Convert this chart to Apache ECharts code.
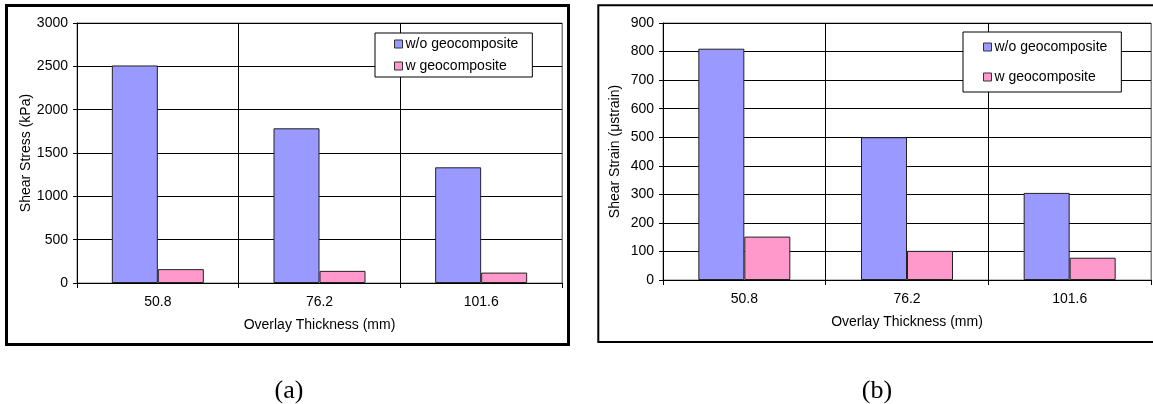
<!DOCTYPE html>
<html>
<head>
<meta charset="utf-8">
<script src="https://cdn.jsdelivr.net/npm/echarts@6/dist/echarts.min.js"></script>
<style>
  html, body { margin: 0; padding: 0; background: #fff; }
  #chart { width: 1153px; height: 404px; }
</style>
</head>
<body>
<div id="chart"></div>
<script>
// overlay thickness (mm)
const categories = ['50.8', '76.2', '101.6']
const seriesNames = ['w/o geocomposite', 'w geocomposite']

// (a) shear stress, kPa
const stressWithout = [2510, 1785, 1335]
const stressWith = [160, 140, 120]
const stressTicks = { min: 0, max: 3000, interval: 500 }

// (b) shear strain, microstrain
const strainWithout = [810, 500, 305]
const strainWith = [152, 102, 78]
const strainTicks = { min: 0, max: 900, interval: 100 }

const blue = '#9999ff'
const pink = '#ff99cc'
const font = 'Liberation Sans, Arial, sans-serif'

function xAxis(gridIndex) {
  return {
    type: 'category',
    gridIndex,
    data: categories,
    name: 'Overlay Thickness (mm)',
    nameLocation: 'middle',
    nameGap: 35,
    nameTextStyle: { fontFamily: font, fontSize: 14, color: '#000' },
    axisLine: { lineStyle: { color: '#000', width: 1 } },
    axisTick: { show: true, interval: 0, length: 5, lineStyle: { color: '#000' } },
    axisLabel: { fontFamily: font, fontSize: 14, color: '#000', margin: 12, interval: 0 },
    splitLine: {
      show: true,
      interval: 0,
      lineStyle: { color: ['#000', '#000', '#000', '#808080'], width: 1 },
    },
  }
}

function yAxis(gridIndex, ticks, name, gap) {
  return {
    type: 'value',
    gridIndex,
    min: ticks.min,
    max: ticks.max,
    interval: ticks.interval,
    name,
    nameLocation: 'middle',
    nameGap: gap,
    nameTextStyle: { fontFamily: font, fontSize: 14, color: '#000' },
    axisLine: { show: true, lineStyle: { color: '#000', width: 1 } },
    axisTick: { show: true, length: 4, lineStyle: { color: '#000' } },
    axisLabel: {
      fontFamily: font,
      fontSize: 14,
      color: '#000',
      margin: 9,
      formatter: v => String(v),
    },
    splitLine: { show: true, lineStyle: { color: '#000', width: 1 } },
  }
}

function bar(name, data, color, idx) {
  return {
    type: 'bar',
    name,
    data,
    xAxisIndex: idx,
    yAxisIndex: idx,
    barWidth: 46,
    barGap: '0%',
    itemStyle: { color, borderColor: '#222', borderWidth: 1 },
  }
}

function legend(left, top, itemGap, padding) {
  return {
    orient: 'vertical',
    left,
    top,
    data: seriesNames,
    icon: 'rect',
    itemWidth: 8,
    itemHeight: 8,
    itemGap,
    padding,
    backgroundColor: '#fff',
    borderColor: '#000',
    borderWidth: 1,
    borderRadius: 0,
    selectedMode: false,
    itemStyle: { borderColor: '#333', borderWidth: 1 },
    textStyle: { fontFamily: font, fontSize: 14, color: '#000', padding: [0, 0, 0, -2] },
  }
}

const chart = echarts.init(document.getElementById('chart'))
chart.setOption({
  animation: false,
  backgroundColor: '#fff',
  grid: [
    { left: 77, top: 23, right: 591, bottom: 121, show: true, borderColor: '#808080', borderWidth: 1 },
    { left: 663, top: 23, right: 2, bottom: 124, show: true, borderColor: '#808080', borderWidth: 1 },
  ],
  legend: [
    legend(375, 33, 8, [4, 14, 4, 19]),
    legend(963, 32, 16, [8, 14, 8, 20]),
  ],
  xAxis: [xAxis(0), xAxis(1)],
  yAxis: [
    yAxis(0, stressTicks, 'Shear Stress (kPa)', 44),
    yAxis(1, strainTicks, 'Shear Strain (μstrain)', 41),
  ],
  series: [
    bar(seriesNames[0], stressWithout, blue, 0),
    bar(seriesNames[1], stressWith, pink, 0),
    bar(seriesNames[0], strainWithout, blue, 1),
    bar(seriesNames[1], strainWith, pink, 1),
  ],
  graphic: [
    {
      type: 'rect',
      silent: true,
      z: 100,
      shape: { x: 6.5, y: 5.5, width: 562, height: 339 },
      style: { fill: 'none', stroke: '#000', lineWidth: 3 },
    },
    {
      type: 'rect',
      silent: true,
      z: 100,
      shape: { x: 598.3, y: 5.3, width: 560, height: 336.7 },
      style: { fill: 'none', stroke: '#000', lineWidth: 2 },
    },
    {
      type: 'text',
      x: 289,
      y: 391,
      style: {
        text: '(a)',
        font: '26px "Liberation Serif", "Times New Roman", serif',
        fill: '#000',
        align: 'center',
        verticalAlign: 'middle',
      },
    },
    {
      type: 'text',
      x: 877,
      y: 391,
      style: {
        text: '(b)',
        font: '26px "Liberation Serif", "Times New Roman", serif',
        fill: '#000',
        align: 'center',
        verticalAlign: 'middle',
      },
    },
  ],
})
window.addEventListener('resize', () => chart.resize())
</script>
</body>
</html>
